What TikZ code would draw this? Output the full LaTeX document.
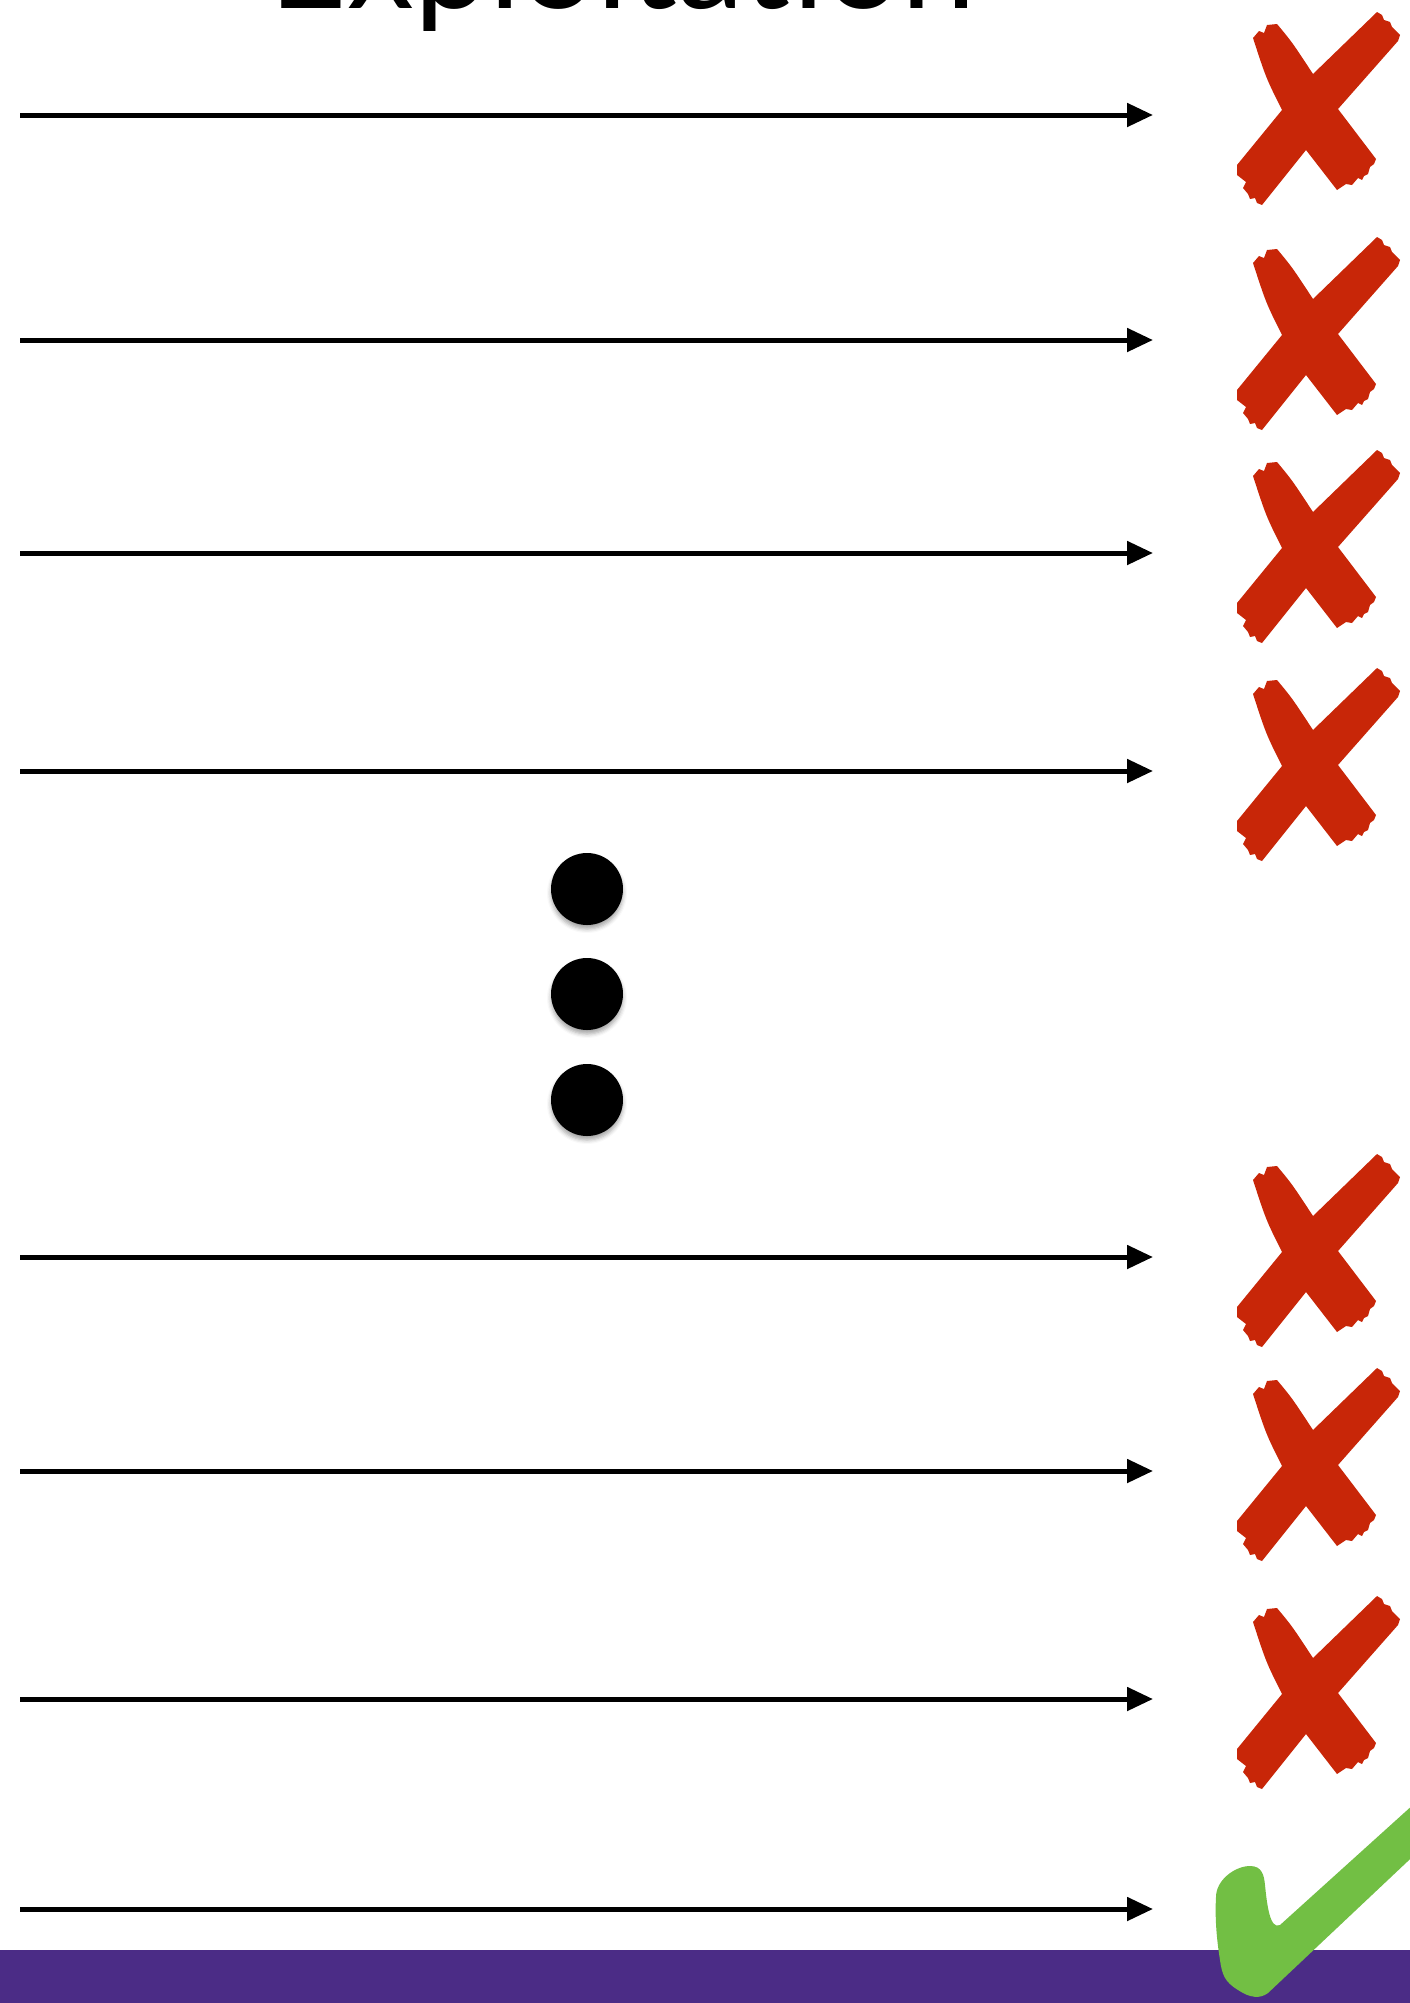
\documentclass[tikz,border=0pt]{standalone}
\usepackage{fontspec}
\setmainfont{Lato}
\usetikzlibrary{arrows.meta,shadows.blur}
\definecolor{crossred}{RGB}{200,38,8}
\definecolor{chkgreen}{RGB}{114,191,68}
\definecolor{barpurple}{RGB}{75,44,134}
\tikzset{
  arr/.style={line width=5pt,-{Triangle[length=26pt,width=23pt]}},
  dotnode/.style={circle,fill=black,minimum size=72pt,inner sep=0pt,
    blur shadow={shadow xshift=0pt,shadow yshift=-4pt,shadow blur radius=4pt,shadow opacity=35}},
  pics/redx/.style={code={
    \fill[crossred] (-57,-52) -- (-51,-59) -- (-46,-57) -- (-43,-65) -- (-33,-66)
      .. controls (-18,-48) .. (3,-16)
      -- (67,-78) -- (72,-75) -- (74,-70) -- (80,-68) -- (82,-63) -- (90,-55) -- (88,-49)
      -- (28,19)
      -- (66,69) -- (64,74) -- (60,77) -- (58,84) -- (54,86) -- (52,90) -- (48,88) -- (42,95) -- (36,94) -- (27,100)
      -- (-4,60)
      -- (-48,115) -- (-53,113) -- (-55,108) -- (-60,109) -- (-62,104) -- (-67,98) -- (-64,92) -- (-73,85) -- (-73,75)
      -- (-28,20)
      .. controls (-44,-12) .. (-57,-52) -- cycle;
  }}
}
\begin{document}
\begin{tikzpicture}[x=1pt,y=-1pt]
\useasboundingbox (0,0) rectangle (1410,2003);
\clip (0,0) rectangle (1410,2003);
% title (cut off at top, as in the reference)
\node[anchor=base,inner sep=0pt,font=\fontsize{134}{134}\selectfont] (title) at (623,8) {Exploitation};
% arrows
\foreach \i/\y in {1/115,2/340,3/553,4/771,5/1257,6/1471,7/1699,8/1909}{
  \coordinate (s\i) at (20,\y);
  \coordinate (e\i) at (1153,\y);
  \draw[arr] (s\i) -- (e\i);
}
% red crosses
\foreach \y in {115,340,553,771,1257,1471,1699}{
  \pic at (1310,\y-25) {redx};
}
% dots
\node[dotnode] (d1) at (587,889) {};
\node[dotnode] (d2) at (587,994) {};
\node[dotnode] (d3) at (587,1100) {};
% purple bar
\fill[barpurple] (0,1950) rectangle (1410,2003);
% green check
\fill[chkgreen] (1280,1925) -- (1425,1794) -- (1425,1845) -- (1268,1993)
  .. controls (1260,1999) and (1250,1998) .. (1238,1990)
  .. controls (1225,1982) and (1222,1975) .. (1220,1960)
  .. controls (1216,1935) and (1215,1915) .. (1216,1897)
  .. controls (1216,1880) and (1235,1866) .. (1250,1866)
  .. controls (1262,1866) and (1264,1875) .. (1265,1885)
  .. controls (1267,1905) and (1270,1930) .. (1280,1925) -- cycle;
\end{tikzpicture}
\end{document}
